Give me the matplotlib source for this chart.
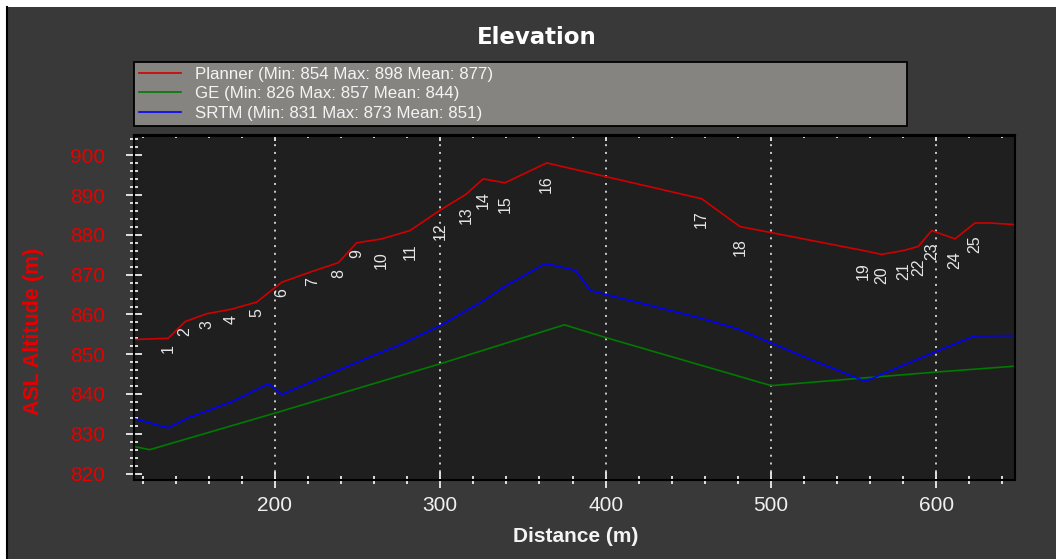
import matplotlib.pyplot as plt
from matplotlib.patches import Rectangle
from matplotlib.lines import Line2D
from matplotlib.ticker import MultipleLocator

# planner profile: start point, waypoints 1..25, tail
planner_dist = [114.7, 135.4, 145.6, 158.9, 173.4, 188.9, 204.1, 223.0, 238.3, 249.4, 264.5,
                281.7, 299.8, 315.5, 326.0, 339.1, 364.4, 458.1, 481.3, 555.7, 567.0,
                580.5, 589.2, 597.3, 611.4, 623.5, 632.6, 647.7]
planner_alt = [853.7, 854.0, 858.2, 860.2, 861.3, 863.1, 868.1, 870.9, 873.0, 878.0, 879.0,
               881.1, 886.2, 890.2, 894.1, 893.1, 898.1, 889.1, 882.1, 876.1, 875.1,
               876.1, 877.1, 881.1, 879.0, 883.0, 883.0, 882.6]
wp_labels = [str(i) for i in range(1, 26)]

ge_dist = [114.7, 124.2, 200.0, 300.0, 375.1, 400.0, 500.2, 558.1, 599.5, 647.7]
ge_alt = [826.8, 826.0, 835.2, 847.6, 857.4, 854.2, 842.1, 844.1, 845.5, 847.0]

srtm_dist = [114.7, 135.3, 147.5, 174.7, 196.0, 204.1, 259.6, 274.7, 300.0, 326.3, 338.4,
             363.6, 381.8, 390.9, 411.0, 455.6, 479.8, 500.2, 528.1, 557.1, 599.5, 623.3, 647.7]
srtm_alt = [833.8, 831.5, 834.0, 838.2, 842.6, 839.9, 849.7, 852.2, 857.2, 863.5, 866.9,
            872.8, 871.1, 866.0, 863.9, 859.3, 856.4, 852.8, 848.0, 843.2, 850.6, 854.6, 854.7]

legend_labels = ["Planner (Min: 854 Max: 898 Mean: 877)",
                 "GE (Min: 826 Max: 857 Mean: 844)",
                 "SRTM (Min: 831 Max: 873 Mean: 851)"]

W, H = 1056, 559
fig = plt.figure(figsize=(W / 100, H / 100), dpi=100, facecolor='white')
fig.patches.append(Rectangle((8 / W, 0), 1, (H - 7) / H, transform=fig.transFigure,
                             facecolor='#393939', edgecolor='none', zorder=-10))
fig.lines.append(Line2D([7 / W, 7 / W], [0, (H - 7) / H], transform=fig.transFigure,
                        color='black', lw=1.5, zorder=-9))

ax = fig.add_axes([134 / W, (H - 479.5) / H, (1015 - 134) / W, (479.5 - 135.5) / H])
ax.set_facecolor('#1f1f1f')

l1, = ax.plot(planner_dist, planner_alt, color='#d00000', lw=1.2)
l2, = ax.plot(ge_dist, ge_alt, color='#007a00', lw=1.2)
l3, = ax.plot(srtm_dist, srtm_alt, color='#0000ff', lw=1.2)

for i, lab in enumerate(wp_labels):
    ax.annotate(lab, (planner_dist[i + 1], planner_alt[i + 1]), xytext=(0, -7.5 * len(lab)),
                textcoords='offset points', rotation=90, ha='center', va='center',
                color='#e6e6e6', fontsize=11.5, family='Liberation Sans')

ax.set_xlim(114.7, 647.7)
ax.set_ylim(818.5, 905)
ax.xaxis.set_major_locator(MultipleLocator(100))
ax.xaxis.set_minor_locator(MultipleLocator(20))
ax.yaxis.set_major_locator(MultipleLocator(10))
ax.yaxis.set_minor_locator(MultipleLocator(2))
ax.grid(axis='x', which='major', color='#d8d8d8', linestyle=(0, (1.1, 3.2)), lw=1.3)

for s in ax.spines.values():
    s.set_color('black')
    s.set_linewidth(1.5)

ax.tick_params(which='major', direction='inout', length=12, width=1.2, color='white')
ax.tick_params(which='minor', direction='inout', length=5.5, width=1.2, color='white')
ax.tick_params(axis='x', which='major', pad=6, labelsize=15, labelcolor='#f0f0f0')
ax.tick_params(axis='y', which='major', pad=15, labelsize=15, labelcolor='#e60000')
for t in ax.get_xticklabels() + ax.get_yticklabels():
    t.set_family('Liberation Sans')

top = ax.secondary_xaxis('top')
top.xaxis.set_major_locator(MultipleLocator(100))
top.xaxis.set_minor_locator(MultipleLocator(20))
top.tick_params(which='major', direction='in', length=4.5, width=1.2, color='white', labeltop=False)
top.tick_params(which='minor', direction='in', length=2.5, width=1.2, color='white')
top.spines['top'].set_color('black')
top.spines['top'].set_linewidth(1.5)

fig.text(536.5 / W, (H - 38) / H, "Elevation", ha='center', va='center', color='white',
         fontsize=16.5, fontweight='bold', family='DejaVu Sans')
fig.text(575.5 / W, (H - 536) / H, "Distance (m)", ha='center', va='center', color='#f4f4f4',
         fontsize=15, fontweight='bold', family='Liberation Sans')
fig.text(34 / W, (H - 331.5) / H, "ASL Altitude (m)", ha='center', va='center', color='#e60000',
         fontsize=15.5, fontweight='bold', family='Liberation Sans', rotation=90)

leg = fig.legend([l1, l2, l3], legend_labels, loc='upper left',
                 bbox_to_anchor=(134 / W, (H - 62) / H, (907 - 134) / W, 0), mode='expand',
                 borderaxespad=0, borderpad=0.3, labelspacing=0.25, handlelength=2.5,
                 handletextpad=0.8, fancybox=False, framealpha=1,
                 prop={'family': 'Liberation Sans', 'size': 12.2})
leg.get_frame().set_facecolor('#858481')
leg.get_frame().set_edgecolor('black')
leg.get_frame().set_linewidth(1.3)
for t in leg.get_texts():
    t.set_color('#f4f4f4')

fig.savefig('out.png', dpi=100, facecolor=fig.get_facecolor())
